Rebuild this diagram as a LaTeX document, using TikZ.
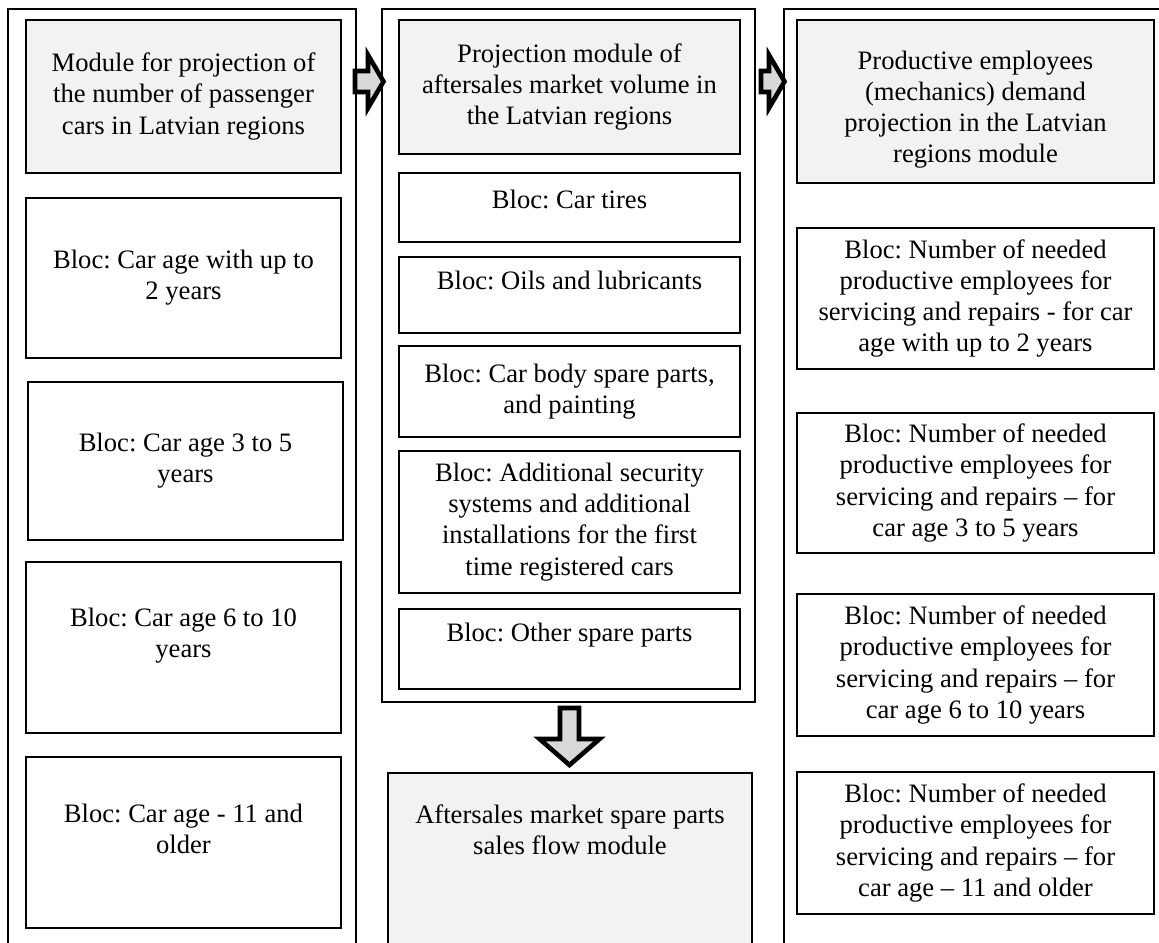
\documentclass[tikz,border=0pt]{standalone}
\usepackage{fontspec}
\setmainfont{Liberation Serif}
\frenchspacing
\definecolor{modfill}{HTML}{F2F2F2}
\definecolor{arrfill}{HTML}{D9D9D9}

\begin{document}
\begin{tikzpicture}[
    x=0.5pt, y=-0.5pt,
    every node/.style={
        font=\fontsize{13.3pt}{15.6pt}\selectfont
    },
    boxsize/.style 2 args={
        minimum width=#1*0.5pt,
        minimum height=#2*0.5pt
    },
    colframe/.style={
        draw=black,
        line width=1pt,
        inner sep=0pt
    },
    module/.style={
        draw=black,
        line width=1pt,
        fill=modfill,
        align=center,
        inner sep=0pt
    },
    bloc/.style={
        draw=black,
        line width=1pt,
        fill=white,
        align=center,
        inner sep=0pt
    },
    bloctext/.style={
        align=center,
        inner sep=0pt
    },
    blockarrow/.style={
        draw=black,
        line width=2.3pt,
        fill=arrfill,
        line join=miter
    }
]

\useasboundingbox (0,0) rectangle (1159,942);
\clip (0,0) rectangle (1159,942);

% Column frames
\node[colframe, boxsize={348}{991}] (lframe) at (182,504.5) {};
\node[colframe, boxsize={373}{693}] (mframe) at (568.5,355.5) {};
\node[colframe, boxsize={416}{991}] (rframe) at (992,504.5) {};

% Left column: passenger cars
\node[module, boxsize={315}{153}] (lmod) at (183.5,96.5) {Module for projection of\\the number of passenger\\cars in Latvian regions};
\node[bloc, boxsize={315}{160}] (lbloc1) at (183.5,278) {Bloc: Car age with up to\\2 years};
\node[bloc, boxsize={315}{158}] (lbloc2) at (185.5,461) {Bloc: Car age 3 to 5\\years};
\node[bloc, boxsize={315}{171}] (lbloc3) at (183.5,647.5) {};
\node[bloctext] (lbloc3txt) at (183.5,636) {Bloc: Car age 6 to 10\\years};
\node[bloc, boxsize={315}{171}] (lbloc4) at (183.5,842.5) {};
\node[bloctext] (lbloc4txt) at (183.5,829) {Bloc: Car age - 11 and\\older};

% Middle column: aftersales market volume
\node[module, boxsize={341}{134}] (mmod) at (569.5,87) {Projection module of\\aftersales market volume in\\the Latvian regions};
\node[bloc, boxsize={341}{69}, text depth=8.6pt] (mbloc1) at (569.5,207.5) {Bloc: Car tires};
\node[bloc, boxsize={341}{76}, text depth=15.1pt] (mbloc2) at (569.5,295) {Bloc: Oils and lubricants};
\node[bloc, boxsize={341}{91}] (mbloc3) at (569.5,391.5) {Bloc: Car body spare parts,\\and painting};
\node[bloc, boxsize={341}{142}] (mbloc4) at (569.5,522) {Bloc: Additional security\\systems and additional\\installations for the first\\time registered cars};
\node[bloc, boxsize={341}{80}, text depth=17.1pt] (mbloc5) at (569.5,649) {Bloc: Other spare parts};

% Sales flow module (runs off the bottom)
\node[module, boxsize={364}{227}] (sales) at (570,886.5) {};
\node[bloctext] (salestxt) at (570,830) {Aftersales market spare parts\\sales flow module};

% Right column: mechanics demand
\node[module, boxsize={357}{163}] (rmod) at (975.5,101.5) {};
\node[bloctext] (rmodtxt) at (975.5,109.5) {Productive employees\\(mechanics) demand\\projection in the Latvian\\regions module};
\node[bloc, boxsize={357}{141}] (rbloc1) at (975.5,298.5) {Bloc: Number of needed\\productive employees for\\servicing and repairs - for car\\age with up to 2 years};
\node[bloc, boxsize={357}{140}] (rbloc2) at (975.5,483) {Bloc: Number of needed\\productive employees for\\servicing and repairs – for\\car age 3 to 5 years};
\node[bloc, boxsize={357}{142}] (rbloc3) at (975.5,665) {Bloc: Number of needed\\productive employees for\\servicing and repairs – for\\car age 6 to 10 years};
\node[bloc, boxsize={357}{142}] (rbloc4) at (975.5,843) {Bloc: Number of needed\\productive employees for\\servicing and repairs – for\\car age – 11 and older};

% Block arrows between the modules
\coordinate (arr1) at (355,81.5);
\coordinate (arr2) at (761,81.5);
\coordinate (arr3) at (569.5,708);
\draw[blockarrow] (arr1) ++(0,-10.5) -- ++(13,0) -- ++(0,-16) -- ++(15.5,26.5) -- ++(-15.5,26.5) -- ++(0,-16) -- ++(-13,0) -- cycle;
\draw[blockarrow] (arr2) ++(0,-10.5) -- ++(8,0) -- ++(0,-16) -- ++(15.5,26.5) -- ++(-15.5,26.5) -- ++(0,-16) -- ++(-8,0) -- cycle;
\draw[blockarrow] (arr3) ++(-9.5,0) -- ++(19,0) -- ++(0,31) -- ++(20.5,0) -- ++(-30,26) -- ++(-30,-26) -- ++(20.5,0) -- cycle;

\end{tikzpicture}
\end{document}
